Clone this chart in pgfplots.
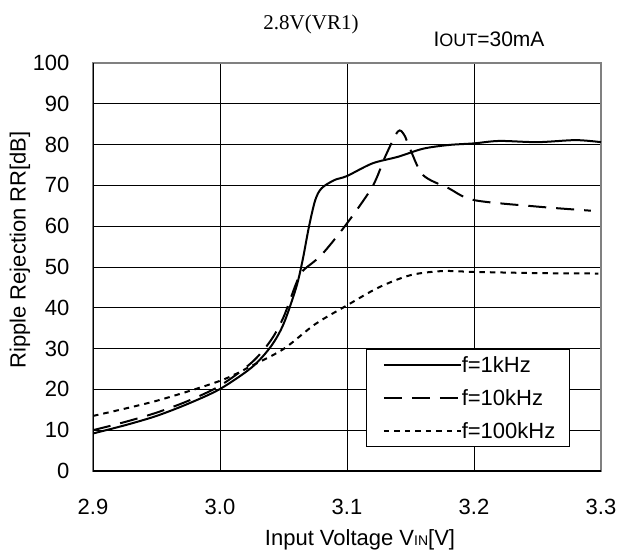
\documentclass[border=0pt]{standalone}
\usepackage{pgfplots}
\pgfplotsset{compat=1.18}
\usepackage{fontspec}
\setmainfont{Liberation Sans}
\newfontfamily\timesfont{Liberation Serif}
\newcommand{\lab}{\fontsize{22}{26}\selectfont}
\newcommand{\pad}{\rule{14pt}{0pt}}
\begin{document}
\begin{tikzpicture}
\useasboundingbox (-93pt,-84pt) rectangle (524pt,471pt);
\begin{axis}[
  at={(0pt,0pt)}, anchor=origin,
  scale only axis,
  width=508pt, height=408pt,
  xmin=2.9, xmax=3.3, ymin=0, ymax=100,
  xtick={2.9,3.0,3.1,3.2,3.3},
  xticklabels={2.9,3.0,3.1,3.2,3.3},
  ytick={0,10,...,100},
  grid=major,
  major grid style={black, line width=0.9pt},
  tick style={draw=none},
  axis line style={draw=gray, line width=2pt},
  /pgf/number format/assume math mode=true,
  tick label style={font=\lab},
  xticklabel style={anchor=center, yshift=-36pt},
  yticklabel style={anchor=east, xshift=-20pt},
  legend style={at={(axis cs:3.1152,30)}, anchor=north west, draw=black, line width=0.9pt,
    inner xsep=0pt, inner ysep=7.5pt, row sep=17pt,
    nodes={inner sep=0pt, text height=16pt, text depth=0pt, font=\lab}},
  legend cell align=left,
  legend image code/.code={\path[draw=none,fill=none] (0pt,-8pt) rectangle (94pt,8pt);\draw[#1, line width=2pt] (17pt,0pt) -- (94pt,0pt);},
  clip=true,
]
\addplot[black, line width=2pt, smooth] coordinates {
(2.9,9.2) (2.925,11.2) (2.95,13.5) (2.975,16.5) (3.0,20.1) (3.025,25.4) (3.04,30.5) (3.05,36) (3.06,45) (3.065,51.6) (3.07,59.8) (3.075,66.4) (3.08,69.3) (3.09,71.3) (3.1,72.3) (3.12,75.4) (3.14,77) (3.16,79) (3.18,79.9) (3.2,80.3) (3.22,80.9) (3.25,80.6) (3.28,81.1) (3.3,80.6)
};
\addlegendentry{f=1kHz\pad}
\addplot[black, line width=2pt, dash pattern=on 18pt off 10pt, smooth] coordinates {
(2.9,10) (2.925,12) (2.95,14.3) (2.975,17.2) (3.0,20.9) (3.025,26.6) (3.04,32) (3.05,37.7) (3.06,46) (3.065,49) (3.08,53) (3.1,60.7) (3.12,69.7) (3.13,77) (3.14,83.2) (3.145,82.4) (3.15,78.7) (3.16,72.5) (3.18,69.3) (3.2,66.4) (3.25,64.8) (3.292,63.8)
};
\addlegendentry{f=10kHz\pad}
\addplot[black, line width=2pt, dash pattern=on 5.5pt off 5pt, smooth] coordinates {
(2.9,13.5) (2.95,17.2) (3.0,22.1) (3.025,25.8) (3.05,29.9) (3.075,36) (3.1,40.6) (3.125,45) (3.15,48) (3.175,49) (3.2,48.8) (3.25,48.5) (3.298,48.4)
};
\addlegendentry{f=100kHz\pad}
\draw[black, line width=2pt] (rel axis cs:0,1) -- (rel axis cs:0,0) -- (rel axis cs:1,0);
\end{axis}
\node[font=\timesfont\fontsize{21}{24}\selectfont] at (218pt,447pt) {2.8V(VR1)};
\node[font=\fontsize{21}{24}\selectfont] at (396pt,431.5pt) {I{\fontsize{18}{21}\selectfont OUT}=30mA};
\node[font=\lab] at (267pt,-69pt) {Input Voltage V{\fontsize{14}{16}\selectfont IN}[V]};
\node[font=\lab, rotate=90] at (-73pt,221pt) {Ripple Rejection RR[dB]};
\end{tikzpicture}
\end{document}
